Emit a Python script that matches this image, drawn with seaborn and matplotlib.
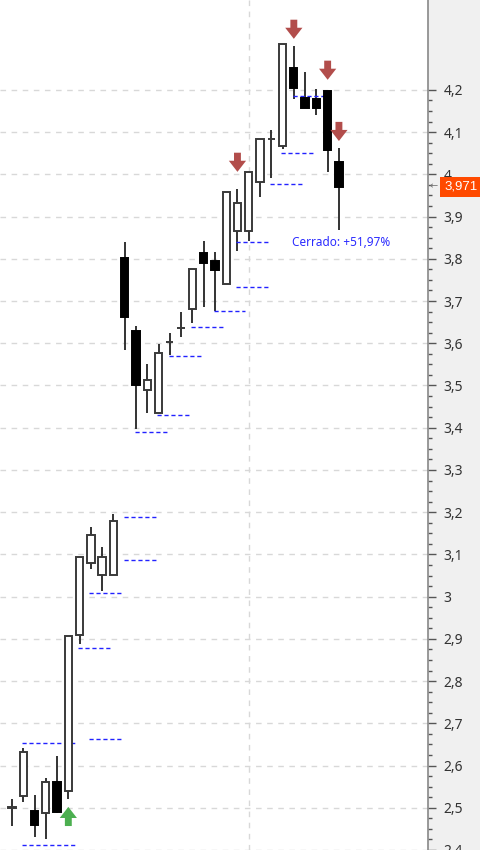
import numpy as np
import pandas as pd
import seaborn as sns
import matplotlib.pyplot as plt
from matplotlib.path import Path
from matplotlib.ticker import FixedLocator, FuncFormatter

# candles (open, high, low, close), one per session
opens  = [2.500, 2.528, 2.492, 2.488, 2.561, 2.540, 2.909, 3.079, 3.051, 3.051,
          3.803, 3.628, 3.490, 3.436, 3.602, 3.635, 3.682, 3.814, 3.796, 3.741,
          3.867, 3.867, 3.982, 4.084, 4.068, 4.252, 4.181, 4.179, 4.198, 4.030]
highs  = [2.521, 2.641, 2.530, 2.570, 2.622, 2.906, 3.093, 3.164, 3.117, 3.195,
          3.840, 3.640, 3.552, 3.599, 3.625, 3.675, 3.777, 3.843, 3.817, 3.959,
          3.966, 4.006, 4.084, 4.105, 4.309, 4.304, 4.243, 4.202, 4.198, 4.063]
lows   = [2.457, 2.514, 2.431, 2.426, 2.488, 2.521, 2.887, 3.065, 3.013, 3.051,
          3.583, 3.398, 3.434, 3.436, 3.573, 3.616, 3.649, 3.687, 3.677, 3.741,
          3.819, 3.843, 3.947, 3.992, 4.060, 4.179, 4.157, 4.141, 4.006, 3.869]
closes = [2.502, 2.632, 2.459, 2.561, 2.490, 2.906, 3.093, 3.145, 3.093, 3.178,
          3.663, 3.502, 3.512, 3.576, 3.602, 3.635, 3.777, 3.791, 3.774, 3.959,
          3.933, 4.006, 4.084, 4.084, 4.309, 4.205, 4.157, 4.157, 4.058, 3.971]

# support / resistance levels (price, from candle, to candle)
level_price = [2.653, 2.412, 2.663, 2.878, 3.008, 3.086, 3.188, 3.391, 3.429,
               3.571, 3.639, 3.677, 3.734, 3.840, 3.978, 4.051, 4.186]
level_from  = [0.9, 0.9, 6.8, 5.9, 6.8, 9.9, 9.9, 10.9, 12.9,
               13.9, 15.9, 17.9, 19.9, 19.9, 22.9, 23.9, 24.9]
level_to    = [5.6, 5.6, 9.7, 8.7, 9.7, 12.8, 12.8, 13.8, 15.7,
               16.8, 18.7, 20.7, 22.7, 22.7, 25.7, 26.7, 27.7]

# signals: sell arrows (tip price) and buy arrow
sell_idx = [20, 25, 28, 29]
sell_tip = [4.006, 4.321, 4.224, 4.079]
buy_idx = [5]
buy_tip = [2.502]

price_ticks = [2.4, 2.5, 2.6, 2.7, 2.8, 2.9, 3.0, 3.1, 3.2, 3.3,
               3.4, 3.5, 3.6, 3.7, 3.8, 3.9, 4.0, 4.1, 4.2]
separator_idx = 21
last_price = 3.971
result_text = "Cerrado: +51,97%"

df = pd.DataFrame({"o": opens, "h": highs, "l": lows, "c": closes})
df["i"] = np.arange(len(df))
df["up"] = df["c"] >= df["o"]

sns.set_theme(style="white")
plt.rcParams["font.family"] = ["Noto Sans", "DejaVu Sans"]

fig = plt.figure(figsize=(4.8, 8.5), dpi=100)
fig.patch.set_facecolor("#f0f0f0")
ax = fig.add_axes([0, 0, 428 / 480, 1])
ax.set_facecolor("white")

# grid
minor = np.arange(price_ticks[0], price_ticks[-1] + 0.001, 0.025)
ax.yaxis.set_major_locator(FixedLocator(price_ticks))
ax.yaxis.set_minor_locator(FixedLocator(minor))
ax.grid(axis="y", which="major", color="#d8d8d8", linestyle=(0, (4, 4)), linewidth=1)
ax.axvline(separator_idx, color="#d8d8d8", linestyle=(0, (4, 4)), linewidth=1, zorder=0)

# wicks and bodies
ax.vlines(df["i"], df["l"], df["h"], color="#333333", linewidth=1.4, zorder=2)
body_bottom = df[["o", "c"]].min(axis=1)
body_height = (df["c"] - df["o"]).abs()
ax.bar(df["i"], body_height, bottom=body_bottom, width=0.65,
       color=np.where(df["up"], "white", "black"),
       edgecolor=np.where(df["up"], "#3a3a3a", "black"),
       linewidth=1.4, zorder=3)

# levels
ax.hlines(level_price, level_from, level_to, colors="#2222ff",
          linestyles=(0, (3, 2)), linewidth=1, zorder=2)

# signal arrows
down_arrow = Path([(0, 0), (-0.45, 0.58), (-0.18, 0.58), (-0.18, 1.0),
                   (0.18, 1.0), (0.18, 0.58), (0.45, 0.58), (0, 0)],
                  [Path.MOVETO] + [Path.LINETO] * 6 + [Path.CLOSEPOLY])
up_arrow = Path([(x, -y) for x, y in down_arrow.vertices], down_arrow.codes)
sns.scatterplot(x=sell_idx, y=sell_tip, marker=down_arrow, s=760,
                color="#b24d4b", edgecolor="none", ax=ax, zorder=4)
sns.scatterplot(x=buy_idx, y=buy_tip, marker=up_arrow, s=760,
                color="#4caf50", edgecolor="none", ax=ax, zorder=4)

ax.text(24.8, 3.838, result_text, color="#2b2bff", fontsize=8.5,
        ha="left", va="center")

# axes
ax.set_xlim(-1.06, 36.9)
ax.set_ylim(2.3999, 4.413)
ax.set_xticks([])
ax.yaxis.tick_right()
ax.yaxis.set_major_formatter(FuncFormatter(lambda v, p: f"{v:g}".replace(".", ",")))
ax.tick_params(axis="y", which="major", length=6, width=1, color="#555555",
               labelsize=10, labelcolor="#333333", pad=5)
ax.tick_params(axis="y", which="minor", length=3, width=1, color="#555555")
for s in ["top", "left", "bottom"]:
    ax.spines[s].set_visible(False)
ax.spines["right"].set_color("#888888")
ax.spines["right"].set_linewidth(1.2)

# last price tag
tr = ax.get_yaxis_transform()
ax.text(1.003, last_price, "\u2190", transform=tr, color="#777777", fontsize=7,
        ha="left", va="center", clip_on=False, family="DejaVu Sans")
ax.text(1.038, last_price, f"{last_price:.3f}".replace(".", ","), transform=tr,
        color="white", fontsize=9.5, ha="left", va="center", clip_on=False,
        family="Liberation Sans",
        bbox=dict(boxstyle="square,pad=0.3", facecolor="#ff4a00", edgecolor="none"))

fig.savefig("out.png", dpi=100, facecolor=fig.get_facecolor())
